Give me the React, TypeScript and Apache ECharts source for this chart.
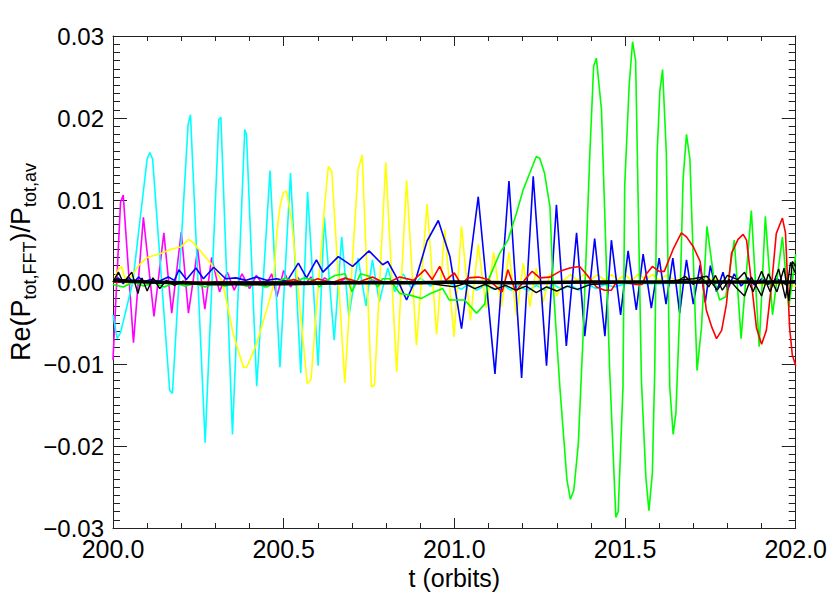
import React, { useEffect, useRef } from "react";
import * as echarts from "echarts";

const xTicks = { min: 200, max: 202, step: 0.5 };
const yTicks = { min: -0.03, max: 0.03, step: 0.01 };

const magenta: [number, number][] = [
  [200.000,-0.0095],[200.022,0.0097],[200.030,0.0106],[200.060,-0.0074],[200.089,0.0079],[200.120,-0.0042],
  [200.149,0.0060],[200.172,-0.0038],[200.200,0.0061],[200.221,-0.0038],[200.248,0.0040],[200.269,-0.0033],
  [200.289,0.0030],[200.312,-0.0012],[200.335,0.0012],[200.355,-0.0010],[200.378,0.0010],[200.400,-0.0008],
  [200.420,0.0008],[200.445,-0.0006],[200.465,0.0010],[200.480,-0.0018],[200.500,0.0014],[200.520,-0.0006],
  [200.540,0.0006],[200.560,-0.0004],[200.580,0.0006],[200.600,-0.0003],[200.620,0.0005],[200.650,-0.0003],
  [200.680,0.0004],[200.720,-0.0002],[200.760,0.0002],[200.800,0.0000],[201.000,0.0000],[201.500,0.0000],[202.000,0.0000]
];

const cyan: [number, number][] = [
  [200.000,-0.0040],[200.012,-0.0069],[200.022,-0.0062],[200.058,0.0000],[200.100,0.0150],[200.108,0.0158],
  [200.116,0.0150],[200.166,-0.0132],[200.174,-0.0136],[200.220,0.0192],[200.227,0.0204],[200.270,-0.0196],
  [200.310,0.0198],[200.316,0.0201],[200.350,-0.0186],[200.386,0.0186],[200.391,0.0180],[200.421,-0.0127],
  [200.460,0.0136],[200.489,-0.0104],[200.520,0.0133],[200.550,-0.0111],[200.570,0.0110],[200.601,-0.0102],
  [200.619,0.0079],[200.648,-0.0071],[200.670,0.0055],[200.691,-0.0042],[200.718,0.0029],[200.741,-0.0029],
  [200.760,0.0027],[200.780,-0.0024],[200.805,0.0017],[200.825,-0.0012],[200.850,0.0010],[200.875,-0.0008],
  [200.900,0.0005],[200.930,-0.0005],[200.960,0.0000],[201.000,-0.0004],[201.020,-0.0009],[201.040,-0.0003],
  [201.065,-0.0010],[201.090,-0.0004],[201.115,-0.0009],[201.140,-0.0003],[201.165,-0.0010],[201.190,-0.0004],
  [201.215,-0.0011],[201.240,-0.0004],[201.265,-0.0010],[201.290,-0.0003],[201.315,-0.0009],[201.340,-0.0004],
  [201.365,-0.0010],[201.390,-0.0003],[201.415,-0.0008],[201.440,-0.0003],[201.470,-0.0006],[201.500,-0.0002],
  [201.600,-0.0002],[201.700,-0.0001],[201.800,-0.0001],[201.900,0.0000],[202.000,0.0000]
];

const yellow: [number, number][] = [
  [200.000,0.0000],[200.015,0.0015],[200.025,0.0019],[200.040,-0.0003],[200.055,0.0008],[200.075,0.0020],
  [200.100,0.0030],[200.142,0.0035],[200.170,0.0040],[200.200,0.0043],[200.221,0.0052],[200.235,0.0048],
  [200.274,0.0029],[200.299,0.0016],[200.320,0.0000],[200.330,-0.0018],[200.352,-0.0063],[200.382,-0.0104],
  [200.392,-0.0104],[200.421,-0.0075],[200.450,-0.0034],[200.469,-0.0006],[200.480,0.0060],[200.489,0.0092],
  [200.499,0.0109],[200.508,0.0111],[200.523,0.0076],[200.569,-0.0124],[200.580,-0.0119],[200.621,0.0099],
  [200.631,0.0141],[200.641,0.0135],[200.679,-0.0123],[200.718,0.0137],[200.730,0.0155],[200.757,-0.0128],
  [200.766,-0.0126],[200.799,0.0146],[200.831,-0.0110],[200.860,0.0124],[200.889,-0.0077],[200.920,0.0095],
  [200.948,-0.0064],[200.972,0.0064],[200.999,-0.0067],[201.021,0.0068],[201.047,-0.0047],[201.070,0.0046],
  [201.093,-0.0032],[201.115,0.0036],[201.138,-0.0030],[201.160,0.0036],[201.182,-0.0042],[201.202,0.0023],
  [201.221,-0.0030],[201.240,0.0017],[201.260,-0.0025],[201.280,0.0010],[201.300,-0.0017],[201.320,0.0002],
  [201.340,0.0009],[201.360,0.0002],[201.380,0.0010],[201.400,0.0003],[201.420,0.0009],[201.440,0.0002],
  [201.460,0.0009],[201.480,0.0003],[201.500,0.0009],[201.520,0.0002],[201.540,0.0010],[201.560,0.0003],
  [201.580,0.0009],[201.600,0.0002],[201.620,0.0008],[201.650,0.0002],[201.680,0.0006],[201.720,0.0001],
  [201.760,0.0004],[201.800,0.0000],[201.850,0.0002],[201.900,-0.0003],[201.950,-0.0002],[202.000,-0.0005]
];

const blue: [number, number][] = [
  [200.000,0.0000],[200.015,0.0005],[200.030,-0.0002],[200.045,0.0006],[200.060,-0.0001],[200.075,0.0006],
  [200.090,0.0000],[200.110,0.0003],[200.135,0.0001],[200.162,0.0006],[200.180,0.0002],[200.193,0.0015],
  [200.215,0.0003],[200.243,0.0017],[200.265,0.0004],[200.295,0.0018],[200.330,0.0004],[200.360,0.0005],
  [200.390,0.0002],[200.420,0.0006],[200.450,0.0002],[200.480,0.0004],[200.510,0.0001],[200.543,0.0023],
  [200.567,0.0005],[200.596,0.0027],[200.615,0.0012],[200.660,0.0031],[200.702,0.0019],[200.750,0.0038],
  [200.790,0.0021],[200.805,0.0025],[200.830,0.0006],[200.860,-0.0022],[200.889,0.0006],[200.920,0.0050],
  [200.953,0.0075],[200.987,0.0031],[201.021,-0.0057],[201.070,0.0104],[201.119,-0.0112],[201.160,0.0123],
  [201.197,-0.0117],[201.231,0.0129],[201.270,-0.0102],[201.299,0.0094],[201.328,-0.0078],[201.358,0.0060],
  [201.382,-0.0066],[201.411,0.0053],[201.441,-0.0066],[201.460,0.0051],[201.487,-0.0040],[201.509,0.0038],
  [201.533,-0.0034],[201.553,0.0034],[201.577,-0.0032],[201.600,0.0029],[201.620,-0.0027],[201.640,0.0029],
  [201.660,-0.0038],[201.680,0.0027],[201.700,-0.0027],[201.720,0.0021],[201.735,-0.0025],[201.750,0.0020],
  [201.768,-0.0012],[201.787,0.0012],[201.800,-0.0010],[201.820,0.0010],[201.840,-0.0005],[201.860,0.0005],
  [201.880,-0.0004],[201.900,0.0004],[201.920,-0.0003],[201.945,0.0004],[201.970,-0.0003],[202.000,0.0002]
];

const green: [number, number][] = [
  [200.000,-0.0003],[200.030,-0.0006],[200.060,0.0000],[200.090,-0.0005],[200.120,-0.0001],[200.150,-0.0006],
  [200.180,-0.0001],[200.210,-0.0005],[200.240,-0.0002],[200.270,-0.0006],[200.300,-0.0002],[200.330,-0.0005],
  [200.360,-0.0001],[200.390,-0.0005],[200.420,-0.0002],[200.450,-0.0006],[200.480,0.0000],[200.505,0.0005],
  [200.530,0.0000],[200.560,0.0005],[200.590,0.0002],[200.605,-0.0006],[200.625,0.0002],[200.650,0.0008],
  [200.680,0.0010],[200.700,-0.0012],[200.725,0.0010],[200.750,0.0007],[200.776,-0.0006],[200.790,0.0004],
  [200.810,0.0004],[200.840,-0.0014],[200.870,-0.0016],[200.904,-0.0020],[200.930,-0.0014],[200.966,-0.0008],
  [200.985,-0.0022],[201.000,-0.0022],[201.030,-0.0022],[201.065,-0.0038],[201.089,-0.0027],[201.099,0.0002],
  [201.133,0.0035],[201.157,0.0051],[201.182,0.0084],[201.202,0.0113],[201.221,0.0133],[201.240,0.0153],
  [201.250,0.0151],[201.264,0.0133],[201.280,0.0092],[201.289,-0.0001],[201.309,-0.0128],[201.330,-0.0242],
  [201.340,-0.0265],[201.350,-0.0254],[201.363,-0.0198],[201.377,-0.0067],[201.397,0.0157],[201.408,0.0263],
  [201.416,0.0273],[201.431,0.0210],[201.455,-0.0108],[201.473,-0.0287],[201.480,-0.0280],[201.494,-0.0128],
  [201.499,0.0117],[201.512,0.0239],[201.522,0.0293],[201.531,0.0270],[201.548,-0.0120],[201.561,-0.0238],
  [201.570,-0.0279],[201.580,-0.0233],[201.587,-0.0108],[201.594,0.0157],[201.602,0.0233],[201.610,0.0259],
  [201.621,0.0157],[201.631,-0.0128],[201.641,-0.0186],[201.649,-0.0160],[201.660,-0.0038],[201.670,0.0125],
  [201.680,0.0180],[201.690,0.0150],[201.711,-0.0108],[201.724,-0.0055],[201.740,0.0068],[201.760,0.0005],
  [201.777,-0.0022],[201.795,-0.0018],[201.820,0.0051],[201.840,-0.0069],[201.870,0.0087],[201.893,-0.0079],
  [201.911,0.0080],[201.932,-0.0040],[201.961,0.0055],[201.980,-0.0031],[202.000,0.0034]
];

const red: [number, number][] = [
  [200.000,0.0000],[200.500,0.0000],[200.530,0.0003],[200.560,-0.0002],[200.600,0.0004],[200.640,-0.0001],
  [200.680,0.0005],[200.720,0.0000],[200.760,0.0006],[200.800,-0.0002],[200.840,0.0006],[200.880,0.0002],
  [200.914,0.0015],[200.935,0.0003],[200.957,0.0019],[200.975,0.0002],[201.000,0.0011],[201.020,-0.0003],
  [201.040,0.0005],[201.070,0.0006],[201.100,0.0003],[201.140,-0.0012],[201.157,0.0015],[201.180,-0.0012],
  [201.205,0.0002],[201.228,0.0013],[201.250,0.0005],[201.280,0.0006],[201.309,0.0013],[201.338,0.0017],
  [201.367,0.0019],[201.390,0.0008],[201.416,-0.0006],[201.440,-0.0010],[201.460,-0.0010],[201.475,0.0000],
  [201.500,0.0000],[201.530,-0.0003],[201.550,-0.0003],[201.563,0.0010],[201.580,0.0019],[201.600,0.0013],
  [201.615,0.0013],[201.641,0.0040],[201.665,0.0060],[201.680,0.0055],[201.700,0.0043],[201.720,0.0025],
  [201.738,-0.0034],[201.755,-0.0056],[201.768,-0.0069],[201.783,-0.0059],[201.797,-0.0027],[201.812,0.0035],
  [201.831,0.0052],[201.846,0.0058],[201.856,0.0051],[201.870,0.0000],[201.885,-0.0056],[201.900,-0.0076],
  [201.914,-0.0059],[201.930,0.0000],[201.943,0.0059],[201.961,0.0078],[201.970,0.0060],[201.982,-0.0055],
  [201.990,-0.0089],[202.000,-0.0102]
];

const blackThin: [number, number][] = [
  [200.000,0.0000],[200.016,0.0012],[200.030,-0.0001],[200.055,0.0012],[200.073,-0.0014],[200.085,0.0005],
  [200.100,-0.0011],[200.117,0.0005],[200.137,-0.0008],[200.156,0.0002],[200.180,-0.0004],[200.205,0.0001],
  [200.230,-0.0002],[200.300,0.0000],[200.900,0.0000],[200.950,-0.0003],[201.000,-0.0006],[201.030,-0.0002],
  [201.060,-0.0008],[201.090,-0.0003],[201.120,-0.0009],[201.150,-0.0004],[201.180,-0.0010],[201.210,-0.0005],
  [201.240,-0.0013],[201.270,-0.0006],[201.300,-0.0011],[201.330,-0.0005],[201.360,-0.0009],[201.400,-0.0003],
  [201.450,-0.0002],[201.500,0.0000],[201.650,0.0000],[201.676,0.0007],[201.700,-0.0003],[201.725,0.0005],
  [201.745,-0.0006],[201.765,0.0008],[201.785,-0.0010],[201.805,0.0003],[201.828,-0.0008],[201.850,-0.0017],
  [201.870,0.0006],[201.900,-0.0017],[201.920,0.0010],[201.945,-0.0012],[201.966,0.0017],[201.980,-0.0023],
  [201.990,0.0025],[202.000,0.0019]
];

const blackThin2: [number, number][] = [
  [201.600,0.0000],[201.650,0.0002],[201.700,0.0004],[201.740,0.0007],[201.770,-0.0010],[201.800,0.0008],
  [201.830,0.0003],[201.850,0.0012],[201.875,-0.0012],[201.900,0.0013],[201.925,-0.0012],[201.950,0.0016],
  [201.970,-0.0020],[201.985,0.0024],[202.000,0.0010]
];

const blackThick: [number, number][] = [
  [200.000,0.0002],[200.100,0.0000],[200.200,-0.0001],[200.300,-0.0002],[200.500,-0.0002],[200.700,-0.0001],
  [200.900,-0.0001],[201.000,0.0000],[201.200,-0.0001],[201.400,0.0000],[201.600,0.0000],[201.800,0.0000],
  [202.000,0.0000]
];

const FONT = "Liberation Sans";
const AXIS = "#222";

function fmtY(v: number) {
  const s = Math.abs(v).toFixed(2);
  return (v < -1e-9 ? "\u2212" : "") + s;
}

function mkLine(data: [number, number][], color: string, width = 1.6) {
  return {
    type: "line",
    data,
    symbol: "none",
    showSymbol: false,
    silent: true,
    lineStyle: { color, width },
    itemStyle: { color },
    xAxisIndex: 0,
    yAxisIndex: 0,
  };
}

export default function App() {
  const ref = useRef<HTMLDivElement>(null);
  useEffect(() => {
    if (!ref.current) return;
    const chart = echarts.init(ref.current, null, { renderer: "svg" });
    const xBase = {
      type: "value",
      min: xTicks.min,
      max: xTicks.max,
      interval: xTicks.step,
      axisLine: { show: true, onZero: false, lineStyle: { color: AXIS, width: 1 } },
      axisTick: { show: true, inside: true, length: 10, lineStyle: { color: AXIS, width: 1 } },
      minorTick: { show: true, splitNumber: 5, length: 5, lineStyle: { color: AXIS, width: 1 } },
      splitLine: { show: false },
      minorSplitLine: { show: false },
    };
    const yBase = {
      type: "value",
      min: yTicks.min,
      max: yTicks.max,
      interval: yTicks.step,
      axisLine: { show: true, onZero: false, lineStyle: { color: AXIS, width: 1 } },
      axisTick: { show: true, inside: true, length: 14, lineStyle: { color: AXIS, width: 1 } },
      minorTick: { show: true, splitNumber: 10, length: 7, lineStyle: { color: AXIS, width: 1 } },
      splitLine: { show: false },
      minorSplitLine: { show: false },
    };
    chart.setOption({
      animation: false,
      backgroundColor: "#fff",
      grid: { left: 113, right: 34, top: 36, bottom: 72 },
      xAxis: [
        {
          ...xBase,
          position: "bottom",
          axisLabel: {
            color: "#000",
            fontSize: 25,
            fontFamily: FONT,
            margin: 8,
            hideOverlap: false,
            formatter: (v: number) => v.toFixed(1),
          },
          name: "t (orbits)",
          nameLocation: "middle",
          nameGap: 37,
          nameTextStyle: { color: "#000", fontSize: 25, fontFamily: FONT },
        },
        { ...xBase, position: "top", axisLabel: { show: false } },
      ],
      yAxis: [
        {
          ...yBase,
          position: "left",
          axisLabel: {
            color: "#000",
            fontSize: 24,
            fontFamily: FONT,
            margin: 9,
            formatter: fmtY,
          },
        },
        { ...yBase, position: "right", axisLabel: { show: false } },
      ],
      graphic: [
        {
          type: "text",
          x: 22,
          y: 262,
          rotation: Math.PI / 2,
          silent: true,
          style: {
            text: "{n|Re(P}{s|tot,FFT}{n|)/P}{s|tot,av}",
            align: "center",
            verticalAlign: "middle",
            rich: {
              n: { fontSize: 27, fontFamily: FONT, fill: "#000", lineHeight: 30, verticalAlign: "top" },
              s: {
                fontSize: 18,
                fontFamily: FONT,
                fill: "#000",
                lineHeight: 18,
                padding: [14, 0, 0, 0],
                verticalAlign: "top",
              },
            },
          },
        },
      ],
      series: [
        mkLine(magenta, "#ff00ff"),
        mkLine(cyan, "#00ffff"),
        mkLine(yellow, "#ffff00"),
        mkLine(blue, "#0000ff"),
        mkLine(green, "#00ff00"),
        mkLine(red, "#ff0000"),
        mkLine(blackThin, "#000000", 1.4),
        mkLine(blackThin2, "#000000", 1.4),
        mkLine(blackThick, "#000000", 3.5),
      ],
    });
    return () => chart.dispose();
  }, []);
  return (
    <div
      ref={ref}
      style={{ position: "absolute", left: 0, top: 0, width: 830, height: 600 }}
    />
  );
}
